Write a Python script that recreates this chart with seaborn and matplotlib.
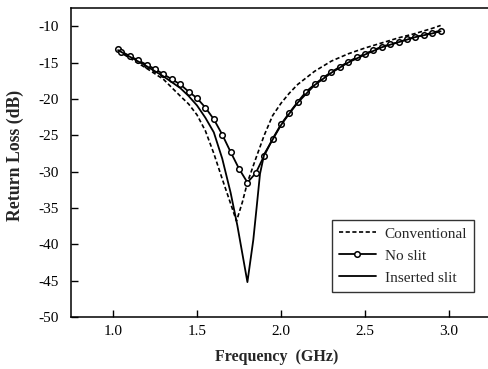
import numpy as np
import pandas as pd
import matplotlib
matplotlib.use("Agg")
import matplotlib.pyplot as plt
import seaborn as sns

# ---- data ----
conv_f = [1.03, 1.10, 1.20, 1.30, 1.40, 1.45, 1.50, 1.55, 1.60, 1.65, 1.70, 1.735,
          1.77, 1.80, 1.85, 1.90, 1.95, 2.00, 2.05, 2.10, 2.20, 2.30, 2.40, 2.50,
          2.60, 2.70, 2.80, 2.90, 2.95]
conv_db = [-13.4, -14.4, -15.8, -17.3, -19.6, -20.7, -22.2, -24.4, -27.5, -31.0, -34.4, -36.8,
           -34.2, -31.5, -28.2, -25.0, -22.3, -20.6, -19.2, -18.0, -16.2, -14.8, -13.8, -13.0,
           -12.3, -11.6, -11.0, -10.3, -9.9]

noslit_f = [1.03, 1.05, 1.10, 1.15, 1.20, 1.25, 1.30, 1.35, 1.40, 1.45, 1.50, 1.55, 1.60,
            1.65, 1.70, 1.75, 1.80, 1.85, 1.90, 1.95, 2.00, 2.05, 2.10, 2.15, 2.20,
            2.25, 2.30, 2.35, 2.40, 2.45, 2.50, 2.55, 2.60, 2.65, 2.70, 2.75, 2.80,
            2.85, 2.90, 2.95]
noslit_db = [-13.2, -13.5, -14.1, -14.7, -15.3, -15.9, -16.6, -17.3, -18.0, -19.0, -19.9, -21.2, -22.8,
             -24.9, -27.3, -29.6, -31.5, -30.2, -27.8, -25.5, -23.5, -21.9, -20.4, -19.0, -18.0,
             -17.1, -16.3, -15.6, -14.9, -14.3, -13.8, -13.3, -12.8, -12.5, -12.2, -11.8, -11.5,
             -11.2, -10.9, -10.6]

ins_f = [1.03, 1.10, 1.20, 1.30, 1.40, 1.45, 1.50, 1.55, 1.60, 1.65, 1.70, 1.74,
         1.77, 1.80, 1.835, 1.855, 1.875, 1.90, 1.95, 2.00, 2.05, 2.10, 2.20, 2.30,
         2.40, 2.50, 2.60, 2.70, 2.80, 2.90, 2.95]
ins_db = [-13.3, -14.2, -15.5, -16.9, -18.5, -19.6, -20.9, -22.6, -24.6, -28.2, -32.9, -37.4,
          -41.3, -45.2, -39.4, -34.9, -30.3, -27.6, -25.6, -23.6, -22.0, -20.5, -18.1, -16.4,
          -15.0, -13.9, -12.9, -12.2, -11.5, -11.0, -10.7]

labels = ["Conventional", "No slit", "Inserted slit"]
xticks = [1.0, 1.5, 2.0, 2.5, 3.0]
yticks = [-10, -15, -20, -25, -30, -35, -40, -45, -50]

sns.set_style("ticks")
plt.rcParams['font.family'] = ['Liberation Serif', 'DejaVu Serif']

fig = plt.figure(figsize=(4.88, 3.69), dpi=100)
ax = fig.add_axes([0.1455, 0.1409, 1.0 - 0.1455, 0.8374])

df_c = pd.DataFrame({"f": conv_f, "db": conv_db})
df_n = pd.DataFrame({"f": noslit_f, "db": noslit_db})
df_i = pd.DataFrame({"f": ins_f, "db": ins_db})

sns.lineplot(data=df_c, x="f", y="db", ax=ax, color="black", lw=1.2,
             linestyle=(0, (2.5, 1.5)), label=labels[0], sort=False)
sns.lineplot(data=df_n, x="f", y="db", ax=ax, color="black", lw=1.3,
             marker="o", markersize=4, markerfacecolor="white",
             markeredgecolor="black", markeredgewidth=1.1, label=labels[1], sort=False)
sns.lineplot(data=df_i, x="f", y="db", ax=ax, color="black", lw=1.3,
             label=labels[2], sort=False)

ax.set_xlim(0.75, 3.232)
ax.set_ylim(-50, -7.5)
ax.set_xticks(xticks)
ax.set_xticklabels([f"{t:.1f}" for t in xticks])
ax.set_yticks(yticks)
ax.set_yticklabels([str(t) for t in yticks])
ax.tick_params(direction="in", length=5, width=1, colors="black", labelsize=11)
ax.tick_params(axis="x", pad=6)
ax.tick_params(axis="y", pad=9)
for s in ["left", "bottom", "top"]:
    ax.spines[s].set_color("black")
    ax.spines[s].set_linewidth(1.1)
ax.spines["right"].set_visible(False)

ax.set_xlabel("Frequency  (GHz)", fontsize=11.5, fontweight="bold")
ax.xaxis.set_label_coords(0.494, -0.105)
ax.set_ylabel("Return Loss (dB)", fontsize=12.8, fontweight="bold")
ax.yaxis.set_label_coords(-0.113, 0.524)

leg = ax.legend(loc="upper left", bbox_to_anchor=(332 / 488, 1 - 220 / 369),
                bbox_transform=fig.transFigure, borderaxespad=0, frameon=True,
                fancybox=False, edgecolor="black", fontsize=11, handlelength=2.4,
                borderpad=0.45, labelspacing=0.55, handletextpad=0.6)
leg.get_frame().set_linewidth(1.0)

fig.savefig("out.png", dpi=100)
